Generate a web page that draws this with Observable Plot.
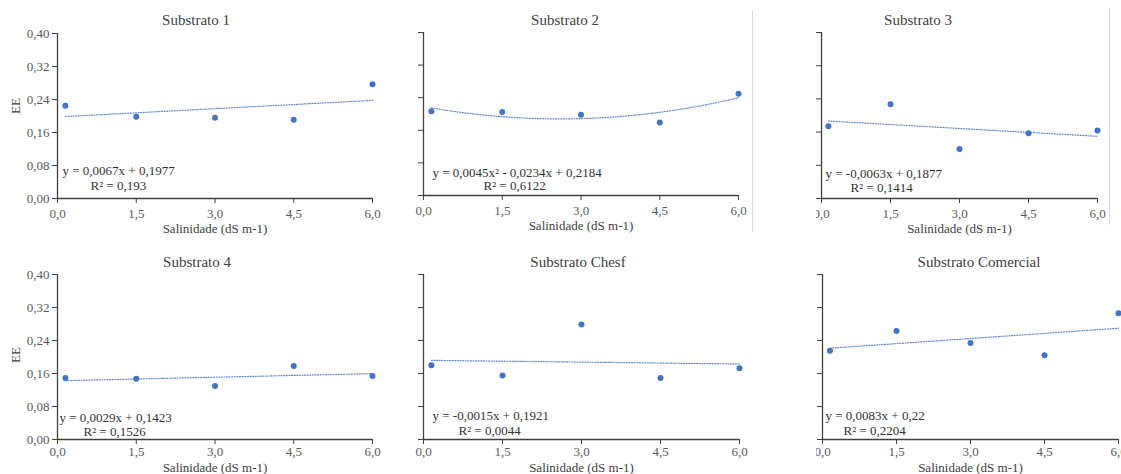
<!DOCTYPE html>
<html><head><meta charset="utf-8">
<script src="https://cdn.jsdelivr.net/npm/d3@7"></script>
<script src="https://cdn.jsdelivr.net/npm/@observablehq/plot@0.6"></script>
<style>
html,body{margin:0;padding:0;background:#fff;}
#root{position:relative;width:1121px;height:474px;overflow:hidden;font-family:"Liberation Serif","Times New Roman",serif;}
.title{position:absolute;transform:translate(-50%,-50%);font-size:15px;color:#404040;white-space:nowrap;}
.sep{position:absolute;width:1px;background:#d9d9d9;}
.clip{position:absolute;overflow:hidden;top:0;height:474px;}
.panel{position:absolute;max-width:none !important;}
</style></head><body><div id="root"></div>
<script>
// ---- data ----
const panelTitles = ["Substrato 1", "Substrato 2", "Substrato 3", "Substrato 4", "Substrato Chesf", "Substrato Comercial"];
const salinity = [0.15, 1.5, 3.0, 4.5, 6.0];
const ee1 = [0.225, 0.198, 0.196, 0.191, 0.277];
const ee2 = [0.207, 0.205, 0.198, 0.179, 0.250];
const ee3 = [0.174, 0.227, 0.119, 0.157, 0.164];
const ee4 = [0.149, 0.147, 0.130, 0.178, 0.154];
const eeChesf = [0.180, 0.155, 0.279, 0.149, 0.173];
const eeComercial = [0.215, 0.263, 0.234, 0.204, 0.306];
// trendline coefficients [x², x, constant]
const coef1 = [0, 0.0067, 0.1977];
const coef2 = [0.0045, -0.0234, 0.2184];
const coef3 = [0, -0.0063, 0.1877];
const coef4 = [0, 0.0029, 0.1423];
const coefChesf = [0, -0.0015, 0.1921];
const coefComercial = [0, 0.0083, 0.22];
const equations = ["y = 0,0067x + 0,1977", "y = 0,0045x² - 0,0234x + 0,2184", "y = -0,0063x + 0,1877",
  "y = 0,0029x + 0,1423", "y = -0,0015x + 0,1921", "y = 0,0083x + 0,22"];
const r2Labels = ["R² = 0,193", "R² = 0,6122", "R² = 0,1414", "R² = 0,1526", "R² = 0,0044", "R² = 0,2204"];
const xTicks = [0, 1.5, 3.0, 4.5, 6.0];
const yTicks = [0, 0.08, 0.16, 0.24, 0.32, 0.40];
const xTitle = "Salinidade (dS m-1)";
const yTitle = "EE";

const seriesList = [ee1, ee2, ee3, ee4, eeChesf, eeComercial];
const coefList = [coef1, coef2, coef3, coef4, coefChesf, coefComercial];

// ---- layout ----
const layout = [
  {left: 57, top: 33, w: 315, h: 165, yLabels: true, title: [196, 20], eq: [5, 28], r2: [33, 13], eeDy: -10, xl: 30, tp: 5},
  {left: 423, top: 32, w: 315, h: 163, yLabels: false, title: [565, 20], eq: [9, 23], r2: [60, 10], xl: 30, tp: 5},
  {left: 821, top: 32, w: 276, h: 166, yLabels: false, title: [918, 20], eq: [4, 25], r2: [29, 11], clip: 816, xl: 30, tp: 5},
  {left: 57, top: 274, w: 315, h: 165, yLabels: true, title: [197, 262], eq: [2, 22], r2: [26, 8], eeDy: -2, xl: 28, tp: 2},
  {left: 423, top: 274, w: 316, h: 165, yLabels: false, title: [578, 262], eq: [9, 24], r2: [35, 9], xl: 28, tp: 2},
  {left: 822, top: 274, w: 296, h: 165, yLabels: false, title: [979, 262], eq: [3, 24], r2: [21, 9], clip: 816, xl: 28, tp: 2}
];

const root = document.getElementById("root");
const comma = f => d => f(d).replace(".", ",");
const blue = "#4472C4";
const mL = 55, mR = 15, mT = 10, mB = 40;

// separators
[[752, 10, 222], [1109, 8, 217]].forEach(([x, y, h]) => {
  const s = document.createElement("div");
  s.className = "sep";
  s.style.left = x + "px"; s.style.top = y + "px"; s.style.height = h + "px";
  root.appendChild(s);
});

layout.forEach((L, i) => {
  const pts = salinity.map((x, j) => ({x, y: seriesList[i][j]}));
  const c = coefList[i];
  const x0 = salinity[0], x1 = salinity[salinity.length - 1];
  const trend = d3.range(0, 61).map(k => {
    const x = x0 + (x1 - x0) * k / 60;
    return {x, y: c[0] * x * x + c[1] * x + c[2]};
  });
  const marks = [
    Plot.ruleX([0], {stroke: "#404040", strokeWidth: 1.3}),
    Plot.ruleY([0], {stroke: "#404040", strokeWidth: 1.3}),
    Plot.axisX({ticks: xTicks, tickFormat: comma(d3.format(".1f")), tickSize: 5, tickPadding: L.tp, label: null, stroke: "#404040"}),
    Plot.axisY({ticks: yTicks, tickFormat: L.yLabels ? comma(d3.format(".2f")) : () => "", tickSize: 5, tickPadding: 3, label: null, stroke: "#404040"}),
    Plot.line(trend, {x: "x", y: "y", stroke: blue, strokeWidth: 1.2, strokeDasharray: "1,1.6", strokeOpacity: 0.85}),
    Plot.dot(pts, {x: "x", y: "y", r: 3, fill: blue, stroke: "none"}),
    Plot.text([equations[i]], {frameAnchor: "bottom-left", dx: L.eq[0], dy: -L.eq[1], textAnchor: "start", lineAnchor: "middle", fill: "#333", fontSize: 13}),
    Plot.text([r2Labels[i]], {frameAnchor: "bottom-left", dx: L.r2[0], dy: -L.r2[1], textAnchor: "start", lineAnchor: "middle", fill: "#333", fontSize: 13}),
    Plot.text([xTitle], {frameAnchor: "bottom", dy: L.xl, lineAnchor: "middle", fill: "#404040", fontSize: 13})
  ];
  if (L.yLabels) {
    marks.push(Plot.text([yTitle], {frameAnchor: "left", dx: -42, dy: L.eeDy, rotate: -90, lineAnchor: "middle", textAnchor: "middle", fill: "#404040", fontSize: 13}));
  }
  const svg = Plot.plot({
    width: L.w + mL + mR,
    height: L.h + mT + mB,
    marginLeft: mL, marginRight: mR, marginTop: mT, marginBottom: mB,
    x: {domain: [0, 6]},
    y: {domain: [0, 0.4]},
    style: {fontFamily: '"Liberation Serif","Times New Roman",serif', fontSize: "13px", color: "#595959", background: "transparent", overflow: "visible", maxWidth: "none"},
    marks
  });
  svg.classList.add("panel");
  let host = root, offX = 0;
  if (L.clip != null) {
    host = document.createElement("div");
    host.className = "clip";
    host.style.left = L.clip + "px";
    host.style.width = (1121 - L.clip) + "px";
    root.appendChild(host);
    offX = L.clip;
  }
  svg.style.left = (L.left - mL - offX) + "px";
  svg.style.top = (L.top - mT) + "px";
  host.appendChild(svg);

  const t = document.createElement("div");
  t.className = "title";
  t.textContent = panelTitles[i];
  t.style.left = L.title[0] + "px";
  t.style.top = L.title[1] + "px";
  root.appendChild(t);
});
</script></body></html>
